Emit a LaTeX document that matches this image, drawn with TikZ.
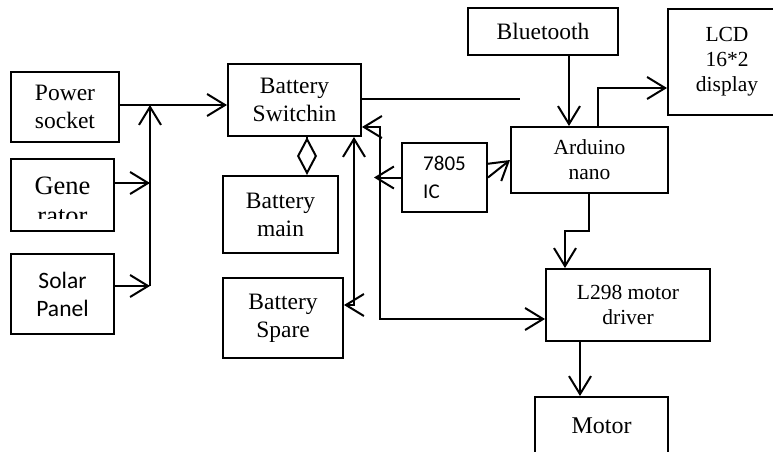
\documentclass[tikz,border=0pt]{standalone}
\usepackage{fontspec}
\setmainfont{Liberation Serif}
\newfontfamily\calibri{Carlito}
\usetikzlibrary{arrows.meta}

\tikzset{
  block/.style={draw, line width=2pt, inner sep=0pt, align=center, font=\fontsize{23.5}{28}\selectfont},
  smallblock/.style={block, font=\fontsize{21.5}{25}\selectfont},
  link/.style={line width=2pt, ->},
}

\begin{document}
\begin{tikzpicture}[x=1pt, y=-1pt, >={Straight Barb[length=18pt,width=22pt]}]
    \useasboundingbox (0,0) rectangle (773,451);
    \clip (0,0) rectangle (773,451);
    % Power sources
    \node[block, minimum width=108pt, minimum height=70pt] (socket) at (65,107) {Power\\socket};
    \node[block, minimum width=103pt, minimum height=72pt] (gen) at (62.5,195) {};
    \node[block, font=\calibri\fontsize{23.5}{28}\selectfont, minimum width=103pt, minimum height=80pt] (solar) at (62.5,294) {Solar\\Panel};
    \begin{scope}
        \clip (11,159) rectangle (114,218);
        \node[align=center, font=\fontsize{26.5}{30}\selectfont] (gentext) at (62.5,201) {Gene\\rator};
    \end{scope}
    % Batteries
    \node[block, minimum width=133pt, minimum height=72pt] (switch) at (294.5,100) {Battery\\Switchin};
    \node[block, minimum width=115pt, minimum height=77pt] (main) at (280.5,214.5) {Battery\\main};
    \node[block, minimum width=120pt, minimum height=80pt] (spare) at (283,318) {Battery\\Spare};
    % Control side
    \node[block, minimum width=150pt, minimum height=47pt] (bt) at (543,31.5) {Bluetooth};
    \node[smallblock, minimum width=118pt, minimum height=106pt] (lcd) at (727,62) {LCD\\16*2\\display};
    \node[smallblock, minimum width=157pt, minimum height=66pt] (ard) at (589.5,160) {Arduino\\nano};
    \node[block, align=left, font=\calibri\fontsize{21}{28}\selectfont, minimum width=85pt, minimum height=69pt] (ic) at (444.5,177.5) {7805\\IC};
    \node[smallblock, minimum width=164pt, minimum height=72pt] (driver) at (628,305) {L298 motor\\driver};
    \node[block, font=\fontsize{24}{28}\selectfont, minimum width=133pt, minimum height=58pt] (motor) at (601.5,426) {Motor};

    % Input bus
    \coordinate (bustop) at (150,105);
    \coordinate (busbot) at (150,286);
    \coordinate (genin) at (150,183);
    \draw[link] (socket.east |- bustop) -- (switch.west |- bustop);
    \draw[link] (busbot) -- (bustop);
    \draw[link] (gen.east |- genin) -- (genin);
    \draw[link] (solar.east |- busbot) -- (busbot);

    % Battery links
    \coordinate (dia) at (307,156);
    \draw[line width=2pt, -{Diamond[open, length=38pt, width=20pt]}] (switch.south -| dia) -- (main.north -| dia);
    \coordinate (sparein) at (354,305);
    \draw[link, <->] (switch.south -| sparein) -- (sparein) -- (sparein -| spare.east);
    \coordinate (topend) at (520,99);
    \draw[line width=2pt] (switch.east |- topend) -- (topend);

    % Regulator line
    \coordinate (regtop) at (380,127);
    \coordinate (regbot) at (380,319);
    \coordinate (regin) at (374,177.5);
    \draw[link, <->] (switch.east |- regtop) -- (regtop) -- (regbot) -- (regbot -| driver.west);
    \draw[link] (ic.west) -- (regin);
    \draw[link] (ic.east) -- (ard.west);

    % Arduino links
    \coordinate (btdown) at (569,90);
    \draw[link] (bt.south -| btdown) -- (ard.north -| btdown);
    \coordinate (lcdin) at (598,88);
    \draw[link] (ard.north -| lcdin) -- (lcdin) -- (lcdin -| lcd.west);
    \coordinate (ardout) at (589,231);
    \coordinate (drvin) at (565,231);
    \draw[link] (ard.south -| ardout) -- (ardout) -- (drvin) -- (driver.north -| drvin);
    \coordinate (motorin) at (580,370);
    \draw[link] (driver.south -| motorin) -- (motor.north -| motorin);
\end{tikzpicture}
\end{document}
